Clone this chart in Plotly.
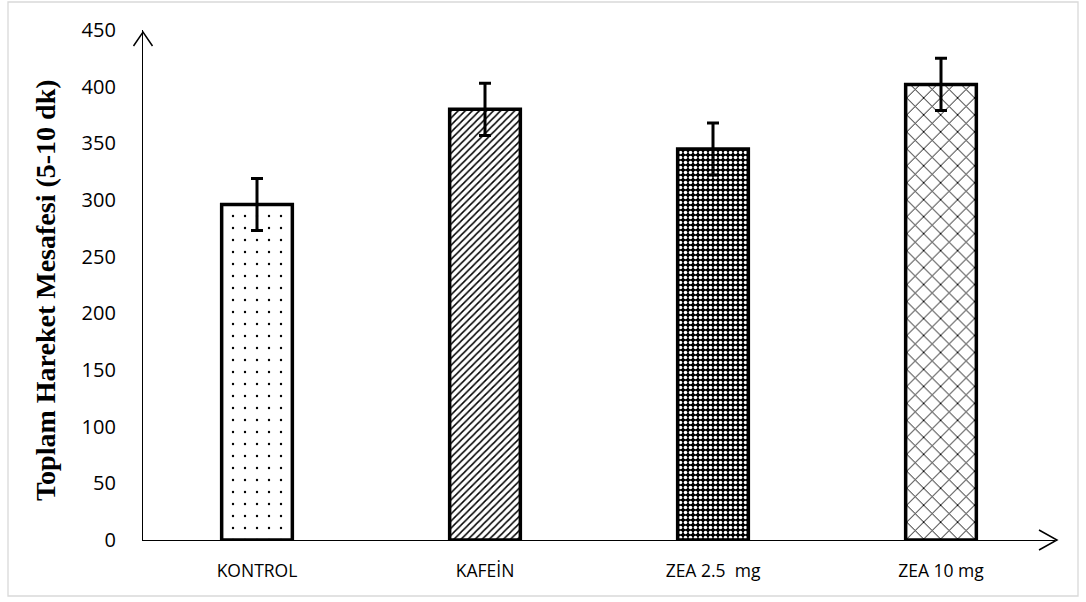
import plotly.graph_objects as go

categories = ["KONTROL", "KAFEİN", "ZEA 2.5  mg", "ZEA 10 mg"]
values = [296, 380, 345, 402]
errors = [23, 23, 23, 23]
y_ticks = [0, 50, 100, 150, 200, 250, 300, 350, 400, 450]

fig = go.Figure()
fig.add_trace(go.Bar(
    x=categories, y=values, width=0.31,
    marker=dict(
        color="white",
        line=dict(color="black", width=3.5),
        pattern=dict(
            shape=[".", "/", ".", "x"],
            fgcolor=["black", "black", "white", "black"],
            bgcolor=["white", "white", "black", "white"],
            size=[12, 5, 5, 12],
            solidity=[0.03, 0.3, 0.4, 0.15],
            fillmode="replace",
        ),
    ),
    error_y=dict(type="data", array=errors, visible=True, color="black",
                 thickness=3, width=6),
    showlegend=False,
))

W, H = 912, 510  # plot area in px

def px(dx):
    return dx / W

def py(dy):
    return dy / H

shapes = [
    dict(type="path", xref="paper", yref="paper",
         path=f"M {px(-9.5)},{1 - py(16)} L 0,{1 + py(-2)} L {px(9.5)},{1 - py(16)}",
         line=dict(color="black", width=1.5)),
    dict(type="path", xref="paper", yref="paper",
         path=f"M {1 - px(18) + px(2)},{py(10)} L {1 + px(2)},0 L {1 - px(18) + px(2)},{py(-10)}",
         line=dict(color="black", width=1.5)),
    dict(type="rect", xref="paper", yref="paper", layer="below",
         x0=px(8 - 143), x1=px(1078 - 143), y0=py(540 - 596), y1=py(540 - 2),
         line=dict(color="#d9d9d9", width=1.3)),
]

fig.update_layout(
    width=1086, height=602,
    margin=dict(l=143, r=31, t=30, b=62),
    plot_bgcolor="white", paper_bgcolor="white",
    shapes=shapes,
    font=dict(family="Open Sans", color="black"),
    xaxis=dict(range=[-0.5, 3.5], showline=True, linecolor="black", linewidth=1.3,
               showgrid=False, zeroline=False, ticks="outside", ticklen=15,
               tickcolor="rgba(0,0,0,0)", tickfont=dict(size=17.5, family="Open Sans")),
    yaxis=dict(range=[0, 450], tickvals=y_ticks, showline=True, linecolor="black",
               linewidth=1.3, showgrid=False, zeroline=False, ticks="outside",
               ticklen=22, tickcolor="rgba(0,0,0,0)",
               tickfont=dict(size=20, family="Open Sans")),
    annotations=[dict(
        text="<b>Toplam Hareket Mesafesi (5-10 dk)</b>", textangle=-90,
        xref="paper", yref="paper", x=px(45 - 143), y=py(540 - 290),
        showarrow=False, font=dict(family="Liberation Serif", size=28, color="black"),
        xanchor="center", yanchor="middle")],
)

fig.write_html("out.html", config={"displayModeBar": False},
               post_script="document.body.style.margin='0';")
